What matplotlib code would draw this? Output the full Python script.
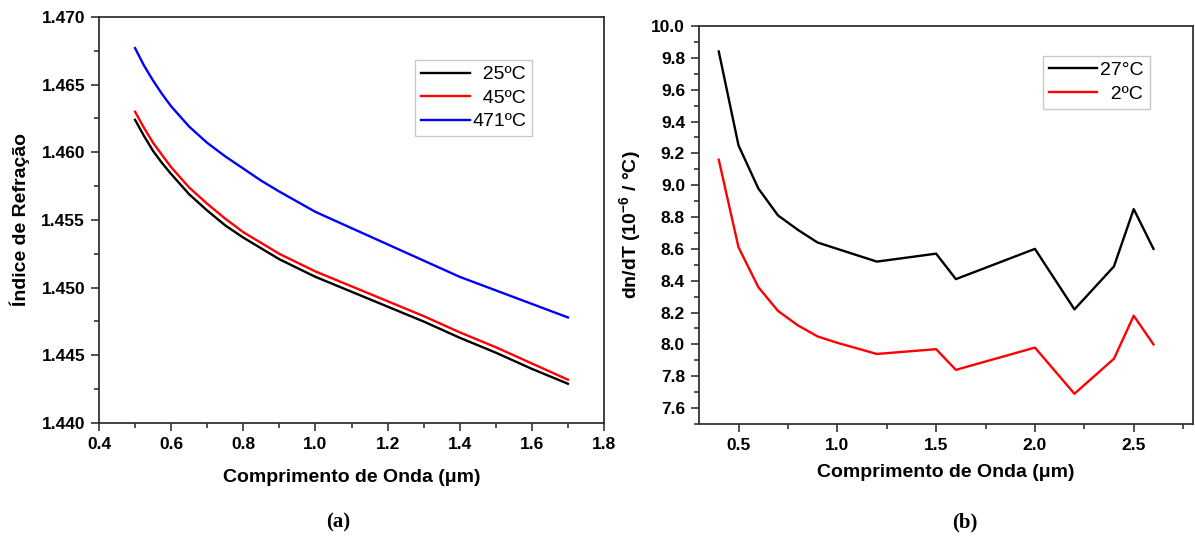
import matplotlib
matplotlib.use("Agg")
import matplotlib.pyplot as plt
from matplotlib.ticker import MultipleLocator, FormatStrFormatter

plt.rcParams['font.family'] = ['Liberation Sans', 'DejaVu Sans']
plt.rcParams['font.weight'] = 'bold'
plt.rcParams['mathtext.fontset'] = 'custom'
plt.rcParams['mathtext.rm'] = 'Liberation Sans:bold'
plt.rcParams['mathtext.bf'] = 'Liberation Sans:bold'
plt.rcParams['mathtext.it'] = 'Liberation Sans:bold'

# ---- panel (a) data ----
wl_a = [0.500, 0.525, 0.550, 0.575, 0.60, 0.65, 0.70, 0.75, 0.80, 0.85, 0.90, 1.00, 1.10, 1.20, 1.30, 1.40, 1.50, 1.60, 1.70]
n_25 = [1.4624, 1.4612, 1.4601, 1.4592, 1.4584, 1.4569, 1.4557, 1.4546, 1.4537, 1.4529, 1.4521, 1.4508, 1.4497, 1.4486, 1.4475, 1.4463, 1.4452, 1.4440, 1.4429]
n_45 = [1.4630, 1.4618, 1.4607, 1.4598, 1.4589, 1.4574, 1.4562, 1.4551, 1.4541, 1.4533, 1.4525, 1.4512, 1.4501, 1.4490, 1.4479, 1.4467, 1.4456, 1.4444, 1.4432]
n_471 = [1.4677, 1.4664, 1.4653, 1.4643, 1.4634, 1.4619, 1.4607, 1.4597, 1.4588, 1.4579, 1.4571, 1.4556, 1.4544, 1.4532, 1.4520, 1.4508, 1.4498, 1.4488, 1.4478]
labels_a = ['  25ºC', '  45ºC', '471ºC']
colors_a = ['black', '#ff0000', '#0000ff']

# ---- panel (b) data ----
wl_b = [0.4, 0.5, 0.6, 0.7, 0.8, 0.9, 1.0, 1.2, 1.5, 1.6, 2.0, 2.2, 2.4, 2.5, 2.6]
dndt_27 = [9.84, 9.25, 8.98, 8.81, 8.72, 8.64, 8.60, 8.52, 8.57, 8.41, 8.60, 8.22, 8.49, 8.85, 8.60]
dndt_2 = [9.16, 8.61, 8.36, 8.21, 8.12, 8.05, 8.01, 7.94, 7.97, 7.84, 7.98, 7.69, 7.91, 8.18, 8.00]
labels_b = ['27°C', '  2ºC']
colors_b = ['black', '#ff0000']

W, H = 1195, 538
fig = plt.figure(figsize=(W / 100, H / 100), dpi=100)

spine_col = '#333333'

def style_axes(ax):
    for s in ax.spines.values():
        s.set_color(spine_col)
        s.set_linewidth(1.3)
    ax.tick_params(which='both', direction='out', color=spine_col, width=1.2,
                   top=False, right=False)
    ax.tick_params(which='major', length=6, labelsize=12.5, pad=4)
    ax.tick_params(which='minor', length=3.5)

leg_kw = dict(loc='upper left', frameon=True, fancybox=False, borderpad=0.3,
              handlelength=2.5, handletextpad=0.15, labelspacing=0.3, borderaxespad=0,
              prop={'weight': 'normal', 'size': 14})

# Panel (a)
ax1 = fig.add_axes([99 / W, 1 - 423 / H, (604 - 99) / W, (423 - 17) / H])
for y, lab, c in zip([n_25, n_45, n_471], labels_a, colors_a):
    ax1.plot(wl_a, y, color=c, lw=1.7, label=lab)
ax1.set_xlim(0.4, 1.8)
ax1.set_ylim(1.440, 1.470)
ax1.xaxis.set_major_locator(MultipleLocator(0.2))
ax1.xaxis.set_minor_locator(MultipleLocator(0.1))
ax1.yaxis.set_major_locator(MultipleLocator(0.005))
ax1.yaxis.set_minor_locator(MultipleLocator(0.0025))
ax1.xaxis.set_major_formatter(FormatStrFormatter('%.1f'))
ax1.yaxis.set_major_formatter(FormatStrFormatter('%.3f'))
style_axes(ax1)
ax1.set_xlabel('Comprimento de Onda (μm)', fontsize=14, fontweight='bold', labelpad=12)
ax1.set_ylabel('Índice de Refração', fontsize=14, fontweight='bold', labelpad=8)
leg1 = ax1.legend(bbox_to_anchor=(0.626, 0.894), **leg_kw)
leg1.get_frame().set_edgecolor('#bbbbbb')
leg1.get_frame().set_linewidth(1.0)

# Panel (b)
ax2 = fig.add_axes([699 / W, 1 - 424 / H, (1193 - 699) / W, (424 - 26) / H])
for y, lab, c in zip([dndt_27, dndt_2], labels_b, colors_b):
    ax2.plot(wl_b, y, color=c, lw=1.7, label=lab)
ax2.set_xlim(0.3, 2.8)
ax2.set_ylim(7.5, 10.0)
ax2.xaxis.set_major_locator(MultipleLocator(0.5))
ax2.xaxis.set_minor_locator(MultipleLocator(0.25))
ax2.yaxis.set_major_locator(MultipleLocator(0.2))
ax2.yaxis.set_minor_locator(MultipleLocator(0.1))
ax2.xaxis.set_major_formatter(FormatStrFormatter('%.1f'))
ax2.yaxis.set_major_formatter(FormatStrFormatter('%.1f'))
style_axes(ax2)
ax2.set_xlabel('Comprimento de Onda (μm)', fontsize=14, fontweight='bold', labelpad=8)
ax2.set_ylabel(r'dn/dT (10$^{-6}$ / °C)', fontsize=14, fontweight='bold', labelpad=6)
leg2 = ax2.legend(bbox_to_anchor=(0.696, 0.925), **leg_kw)
leg2.get_frame().set_edgecolor('#bbbbbb')
leg2.get_frame().set_linewidth(1.0)

fig.text(338 / W, 1 - 522 / H, '(a)', family='Liberation Serif', fontweight='bold',
         fontsize=15, ha='center', va='center')
fig.text(965 / W, 1 - 522 / H, '(b)', family='Liberation Serif', fontweight='bold',
         fontsize=15, ha='center', va='center')

fig.savefig('out.png', dpi=100)
